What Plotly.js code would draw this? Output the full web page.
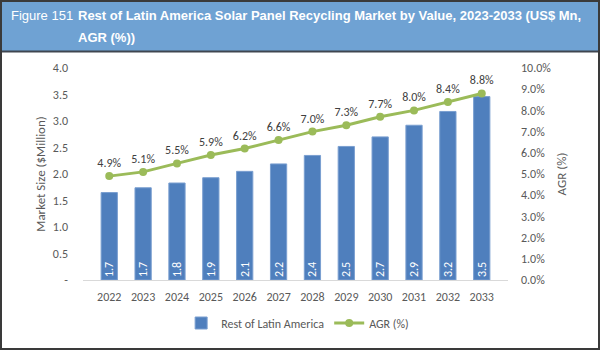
<!DOCTYPE html>
<html>
<head>
<meta charset="utf-8">
<script src="https://cdn.plot.ly/plotly-3.0.1.min.js"></script>
<style>
html,body{margin:0;padding:0;background:#fff;}
#chart{width:600px;height:350px;}
</style>
</head>
<body>
<div id="chart"></div>
<script>
var years = ['2022','2023','2024','2025','2026','2027','2028','2029','2030','2031','2032','2033'];
var marketValues = [1.65, 1.74, 1.83, 1.93, 2.05, 2.19, 2.35, 2.52, 2.70, 2.92, 3.18, 3.46];
var barLabels = ['1.7','1.7','1.8','1.9','2.1','2.2','2.4','2.5','2.7','2.9','3.2','3.5'];
var agrValues = [0.049, 0.051, 0.055, 0.059, 0.062, 0.066, 0.070, 0.073, 0.077, 0.080, 0.084, 0.088];
var agrLabels = ['4.9%','5.1%','5.5%','5.9%','6.2%','6.6%','7.0%','7.3%','7.7%','8.0%','8.4%','8.8%'];
var leftTickVals = [0, 0.5, 1, 1.5, 2, 2.5, 3, 3.5, 4];
var leftTickText = ['-', '0.5', '1.0', '1.5', '2.0', '2.5', '3.0', '3.5', '4.0'];
var seriesNames = ['Rest of Latin America', 'AGR (%)'];
var titleLead = 'Figure 151';
var titleLine1 = 'Rest of Latin America Solar Panel Recycling Market by Value, 2023-2033 (US$ Mn,';
var titleLine2 = 'AGR (%))';

var W = 600, H = 350;
var M = {l: 83, r: 92, t: 68, b: 70};
var PW = W - M.l - M.r, PH = H - M.t - M.b;
function px(x){ return (x - M.l) / PW; }
function py(y){ return (H - M.b - y) / PH; }

var FONT = 'Carlito, Calibri, Lato, sans-serif';

var bars = {
  type: 'bar', x: years, y: marketValues, name: seriesNames[0],
  marker: {color: '#4f7fbd', line: {color: '#7a9fd0', width: 1}},
  width: 0.48,
  text: barLabels, textposition: 'inside', insidetextanchor: 'start',
  textangle: -90, insidetextfont: {color: '#ffffff', size: 12, family: FONT},
  cliponaxis: false, hoverinfo: 'skip'
};
var line = {
  type: 'scatter', mode: 'lines+markers+text', x: years, y: agrValues, yaxis: 'y2',
  name: seriesNames[1],
  line: {color: '#9bbb59', width: 3},
  marker: {color: '#9bbb59', size: 8},
  text: agrLabels, textposition: 'top center',
  textfont: {color: '#404040', size: 12, family: FONT},
  cliponaxis: false, hoverinfo: 'skip'
};

var layout = {
  width: W, height: H,
  margin: M,
  paper_bgcolor: '#ffffff', plot_bgcolor: '#ffffff',
  font: {family: FONT, color: '#595959', size: 11},
  uniformtext: {minsize: 12, mode: 'show'},
  showlegend: true,
  legend: {orientation: 'h', x: 0.505, xanchor: 'center', y: py(323), yanchor: 'middle',
           font: {size: 12, color: '#595959', family: FONT}, itemwidth: 30},
  xaxis: {type: 'category', showline: true, linecolor: '#d9d9d9', linewidth: 1,
          ticks: '', showgrid: false, tickfont: {size: 12, color: '#595959'}, ticklabelstandoff: 6},
  yaxis: {range: [0, 4], tickvals: leftTickVals, ticktext: leftTickText, showgrid: false,
          zeroline: false, showline: false, ticks: '', tickfont: {size: 12, color: '#595959'},
          ticklabelstandoff: 14,
          title: {text: 'Market Size ($Million)', font: {size: 13, color: '#595959'}, standoff: 4}},
  yaxis2: {overlaying: 'y', side: 'right', range: [0, 0.10], dtick: 0.01, tickformat: '.1%',
           showgrid: false, zeroline: false, showline: false, ticks: '',
           tickfont: {size: 12, color: '#595959'}, ticklabelstandoff: 12,
           title: {text: 'AGR (%)', font: {size: 13, color: '#595959'}, standoff: 6}},
  shapes: [
    {type: 'rect', xref: 'paper', yref: 'paper', x0: px(0), x1: px(600), y0: py(51), y1: py(0),
     fillcolor: '#6fa2d3', line: {width: 0}, layer: 'below'},
    {type: 'line', xref: 'paper', yref: 'paper', x0: px(0), x1: px(600), y0: py(51.5), y1: py(51.5),
     line: {color: '#3f4650', width: 2}},
    {type: 'rect', xref: 'paper', yref: 'paper', x0: px(1), x1: px(599), y0: py(349), y1: py(1),
     line: {color: '#3a3a3a', width: 2}, fillcolor: 'rgba(0,0,0,0)'}
  ],
  annotations: [
    {xref: 'paper', yref: 'paper', x: px(9), y: py(15), xanchor: 'left', yanchor: 'middle',
     showarrow: false, text: titleLead,
     font: {family: 'Liberation Sans, Arial, sans-serif', size: 13, color: '#ffffff'}},
    {xref: 'paper', yref: 'paper', x: px(76), y: py(15), xanchor: 'left', yanchor: 'middle',
     showarrow: false, text: '<b>' + titleLine1 + '</b>',
     font: {family: 'Liberation Sans, Arial, sans-serif', size: 13, color: '#ffffff'}},
    {xref: 'paper', yref: 'paper', x: px(76), y: py(37), xanchor: 'left', yanchor: 'middle',
     showarrow: false, text: '<b>' + titleLine2 + '</b>',
     font: {family: 'Liberation Sans, Arial, sans-serif', size: 13, color: '#ffffff'}}
  ]
};

Plotly.newPlot('chart', [bars, line], layout, {displayModeBar: false, staticPlot: true});
</script>
</body>
</html>
